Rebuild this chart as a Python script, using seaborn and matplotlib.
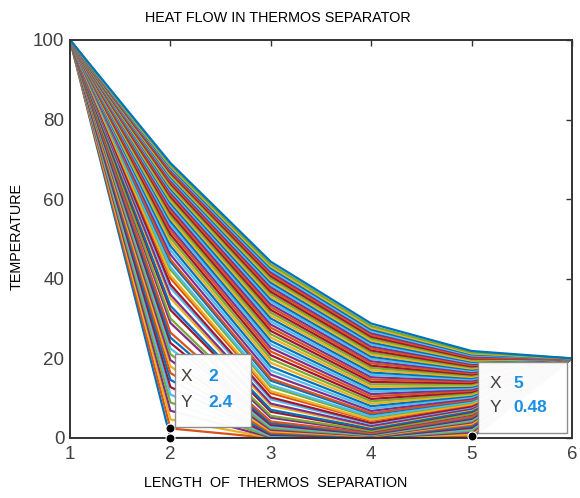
import numpy as np
import pandas as pd
import matplotlib
matplotlib.use("Agg")
import matplotlib.pyplot as plt
import matplotlib.transforms as mtransforms
from matplotlib.patches import Rectangle
import seaborn as sns

# nodes along the separator and the two fixed end temperatures
x_nodes = [1, 2, 3, 4, 5, 6]
t_left = 100
t_right = 20

# time steps that are drawn, and the interior temperatures at each one
steps = [0, 1, 2, 3, 4, 5, 6, 7, 8, 9, 10, 11, 12, 13, 14, 15, 17, 18, 20, 21,
         23, 24, 26, 27, 29, 30, 32, 33, 35, 36, 38, 40, 42, 44, 46, 48, 50, 52, 54, 56,
         58, 60, 62, 64, 66, 68, 70, 72, 74, 76, 78, 80, 82, 84, 86, 88, 90, 92, 94, 96,
         98, 100, 102, 104, 106, 108, 110, 112, 114, 116, 119]
t_x2 = [0, 2.40, 4.68, 6.86, 8.94, 10.91, 12.80, 14.61, 16.33, 17.98, 19.56, 21.07, 22.51,
        23.90, 25.23, 26.51, 28.92, 30.05, 32.19, 33.21, 35.12, 36.03, 37.76, 38.58, 40.14,
        40.88, 42.30, 42.98, 44.28, 44.90, 46.09, 47.21, 48.28, 49.29, 50.25, 51.17, 52.05,
        52.89, 53.68, 54.45, 55.19, 55.90, 56.58, 57.23, 57.86, 58.47, 59.06, 59.62, 60.17,
        60.70, 61.22, 61.72, 62.20, 62.67, 63.12, 63.56, 63.99, 64.41, 64.82, 65.21, 65.60,
        65.97, 66.34, 66.69, 67.04, 67.38, 67.71, 68.03, 68.35, 68.65, 69.10]
t_x3 = [0, 0.00, 0.06, 0.17, 0.33, 0.53, 0.77, 1.04, 1.35, 1.68, 2.04, 2.43, 2.83, 3.26,
        3.70, 4.15, 5.09, 5.58, 6.58, 7.09, 8.12, 8.64, 9.69, 10.21, 11.27, 11.79, 12.84,
        13.36, 14.40, 14.91, 15.93, 16.93, 17.93, 18.90, 19.86, 20.80, 21.73, 22.64, 23.53,
        24.40, 25.26, 26.09, 26.91, 27.72, 28.50, 29.27, 30.03, 30.77, 31.49, 32.19, 32.88,
        33.56, 34.22, 34.87, 35.51, 36.13, 36.74, 37.34, 37.92, 38.49, 39.05, 39.60, 40.14,
        40.67, 41.18, 41.69, 42.18, 42.67, 43.14, 43.61, 44.29]
t_x4 = [0, 0.00, 0.01, 0.03, 0.07, 0.12, 0.18, 0.25, 0.33, 0.43, 0.53, 0.65, 0.78, 0.92,
        1.07, 1.22, 1.57, 1.76, 2.16, 2.37, 2.81, 3.04, 3.52, 3.77, 4.29, 4.55, 5.10, 5.37,
        5.93, 6.22, 6.80, 7.39, 7.99, 8.59, 9.20, 9.81, 10.42, 11.03, 11.64, 12.25, 12.86,
        13.47, 14.08, 14.68, 15.27, 15.86, 16.45, 17.03, 17.61, 18.18, 18.75, 19.30, 19.85,
        20.40, 20.93, 21.46, 21.98, 22.50, 23.01, 23.51, 24.00, 24.49, 24.97, 25.44, 25.91,
        26.37, 26.82, 27.26, 27.70, 28.13, 28.76]
t_x5 = [0, 0.48, 0.94, 1.37, 1.79, 2.18, 2.56, 2.92, 3.27, 3.60, 3.92, 4.22, 4.51, 4.80,
        5.07, 5.33, 5.83, 6.07, 6.52, 6.74, 7.16, 7.37, 7.76, 7.95, 8.33, 8.51, 8.87, 9.05,
        9.40, 9.57, 9.91, 10.24, 10.57, 10.90, 11.22, 11.55, 11.87, 12.19, 12.51, 12.83,
        13.14, 13.46, 13.77, 14.09, 14.40, 14.71, 15.02, 15.33, 15.63, 15.93, 16.24, 16.54,
        16.83, 17.13, 17.42, 17.72, 18.00, 18.29, 18.57, 18.85, 19.13, 19.41, 19.68, 19.95,
        20.21, 20.48, 20.74, 20.99, 21.24, 21.49, 21.86]

# data tips
tip_x = [2, 2, 5]
tip_y = [2.4, 0, 0.48]
tip_boxes = [("2", "2.4"), ("5", "0.48")]

# matlab default line colour order
matlab_colors = ["#0072BD", "#D95319", "#EDB120", "#7E2F8E", "#77AC30", "#4DBEEE", "#A2142F"]

rows = []
for k, n in enumerate(steps):
    prof = [t_left, t_x2[k], t_x3[k], t_x4[k], t_x5[k], t_right]
    for xv, tv in zip(x_nodes, prof):
        rows.append({"step": n, "x": xv, "T": tv})
df = pd.DataFrame(rows)
pal = {n: matlab_colors[n % 7] for n in steps}

sns.set_theme(style="white")
plt.rcParams["font.family"] = ["Liberation Sans", "DejaVu Sans"]

fig = plt.figure(figsize=(5.8, 4.98), dpi=100)
ax = fig.add_axes([70 / 580, 1 - 438 / 498, 502 / 580, 398 / 498])

sns.lineplot(data=df, x="x", y="T", hue="step", hue_order=steps, palette=pal,
             sort=False, estimator=None, legend=False, linewidth=1.6, ax=ax)

sns.scatterplot(x=tip_x, y=tip_y, color="black", s=42, edgecolor="white",
                linewidth=0.8, zorder=6, ax=ax, clip_on=False)

ax.set_xlim(1, 6)
ax.set_ylim(0, 100)
ax.set_xticks(x_nodes)
ax.set_yticks([0, 20, 40, 60, 80, 100])
ax.set_xlabel("")
ax.set_ylabel("")
for s in ax.spines.values():
    s.set_visible(True)
    s.set_color("#333333")
    s.set_linewidth(1.4)
ax.tick_params(direction="in", top=True, right=True, length=4, width=1,
               color="#333333", labelcolor="#404040", labelsize=13.5)
ax.tick_params(axis="x", pad=6)
ax.tick_params(axis="y", pad=4)

# data tip boxes, placed relative to their points
box_geom = [
    # (point index, left, bottom, width, height, label x, value x, row1 y, row2 y) in px
    (0, 4.5, 1.4, 76, 73, 16.5, 37.5, 52, 26),
    (2, 6, 3, 89, 71, 24, 42, 53, 29),
]
for (pi, bl, bb, bw, bh, lx, vx, y1, y2), (xs, ys) in zip(box_geom, tip_boxes):
    tr = fig.dpi_scale_trans + mtransforms.ScaledTranslation(tip_x[pi], tip_y[pi], ax.transData)
    d = fig.dpi
    ax.add_patch(Rectangle((bl / d, bb / d), bw / d, bh / d, transform=tr,
                           facecolor="white", edgecolor="#8a8a8a", linewidth=1.0,
                           alpha=0.97, zorder=7, clip_on=False))
    for lab, val, yy in (("X", xs, y1), ("Y", ys, y2)):
        ax.text(lx / d, yy / d, lab, transform=tr, ha="center", va="center",
                fontsize=12.5, color="#404040", zorder=8)
        ax.text(vx / d, yy / d, val, transform=tr, ha="left", va="center",
                fontsize=12.5, color="#1A8FE3", fontweight="bold", zorder=8)

fig.text(278 / 580, 1 - 18 / 498, "HEAT FLOW IN THERMOS SEPARATOR",
         ha="center", va="center", fontsize=10.4, color="black")
fig.text(276 / 580, 1 - 483 / 498, "LENGTH  OF  THERMOS  SEPARATION",
         ha="center", va="center", fontsize=10.4, color="black")
fig.text(17 / 580, 1 - 237 / 498, "TEMPERATURE", rotation=90,
         ha="center", va="center", fontsize=10.4, color="black")

fig.savefig("out.png", dpi=100)
